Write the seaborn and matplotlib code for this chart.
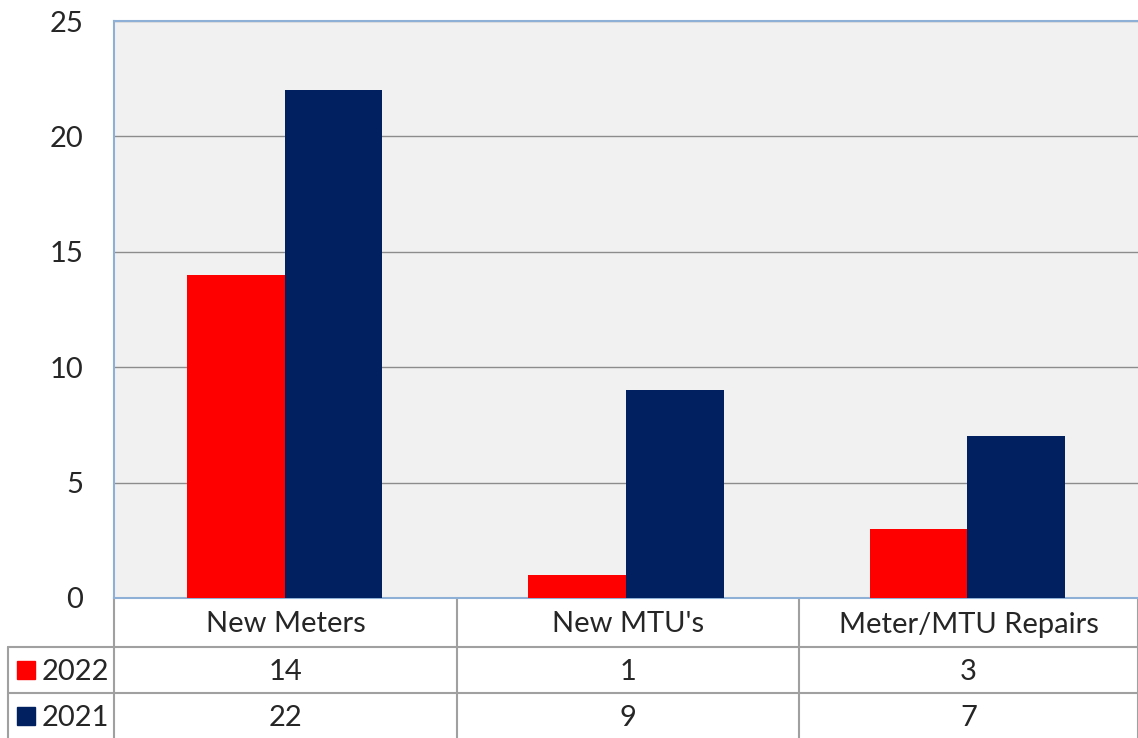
import pandas as pd
import matplotlib
matplotlib.use("Agg")
import matplotlib.pyplot as plt
import seaborn as sns

categories = ["New Meters", "New MTU's", "Meter/MTU Repairs"]
years = ["2022", "2021"]
values_2022 = [14, 1, 3]
values_2021 = [22, 9, 7]
yticks = [0, 5, 10, 15, 20, 25]

colors = {"2022": "#FF0000", "2021": "#002060"}

df = pd.DataFrame({
    "category": categories * 2,
    "year": ["2022"] * 3 + ["2021"] * 3,
    "value": values_2022 + values_2021,
})

sns.set_style("white")
plt.rcParams["font.family"] = ["Lato", "DejaVu Sans"]

W, H = 1138, 738
fig = plt.figure(figsize=(W / 100, H / 100), dpi=100)

# pixel layout of plot area
x0, x1, y0, y1 = 114, 1138, 21, 598
ax = fig.add_axes([x0 / W, 1 - y1 / H, (x1 - x0) / W, (y1 - y0) / H])
ax.set_facecolor("#F1F1F1")

sns.barplot(data=df, x="category", y="value", hue="year", order=categories,
            hue_order=years, palette=colors, width=0.572, saturation=1,
            ax=ax, legend=False, zorder=3)
for p in ax.patches:
    p.set_edgecolor("none")

ax.set_xlim(-0.5, 2.5)
ax.set_ylim(0, 25)
ax.set_yticks(yticks)
ax.set_yticklabels([str(t) for t in yticks], fontsize=21)
ax.tick_params(axis="y", length=0, pad=22)
ax.set_xticks([])
ax.set_xlabel("")
ax.set_ylabel("")
ax.yaxis.grid(True, color="#8C8C8C", linewidth=1, zorder=0)
ax.set_axisbelow(True)
for side in ["top", "left", "bottom"]:
    ax.spines[side].set_color("#8EB0D6")
    ax.spines[side].set_linewidth(1.5)
ax.spines["right"].set_visible(False)

# data table below the plot, drawn in pixel coordinates
tab = fig.add_axes([0, 0, 1, 1], zorder=-1)
tab.set_xlim(0, W)
tab.set_ylim(H, 0)
tab.axis("off")

col_edges = [x0, 457, 799, x1]
row_edges = [y1, 647, 693, H]
line_kw = dict(color="#A0A0A0", linewidth=1.5)

for x in col_edges:
    tab.plot([x, x], [row_edges[0], H], **line_kw)
tab.plot([8, 8], [row_edges[1], H], **line_kw)
tab.plot([x0, x1], [row_edges[1], row_edges[1]], **line_kw)
tab.plot([8, x0], [row_edges[1], row_edges[1]], **line_kw)
tab.plot([8, x1], [row_edges[2], row_edges[2]], **line_kw)

for i, cat in enumerate(categories):
    cx = (col_edges[i] + col_edges[i + 1]) / 2
    tab.text(cx, (row_edges[0] + row_edges[1]) / 2 + 2, cat, fontsize=21,
             ha="center", va="center")
    tab.text(cx, (row_edges[1] + row_edges[2]) / 2 + 2, str(values_2022[i]),
             fontsize=21, ha="center", va="center")
    tab.text(cx, (row_edges[2] + row_edges[3]) / 2 + 2, str(values_2021[i]),
             fontsize=21, ha="center", va="center")

for r, yr in enumerate(years):
    cy = (row_edges[r + 1] + row_edges[r + 2]) / 2
    tab.add_patch(plt.Rectangle((17, cy - 9), 18, 18, color=colors[yr]))
    tab.text(42, cy + 2, yr, fontsize=21, ha="left", va="center")

fig.savefig("out.png", dpi=100)
